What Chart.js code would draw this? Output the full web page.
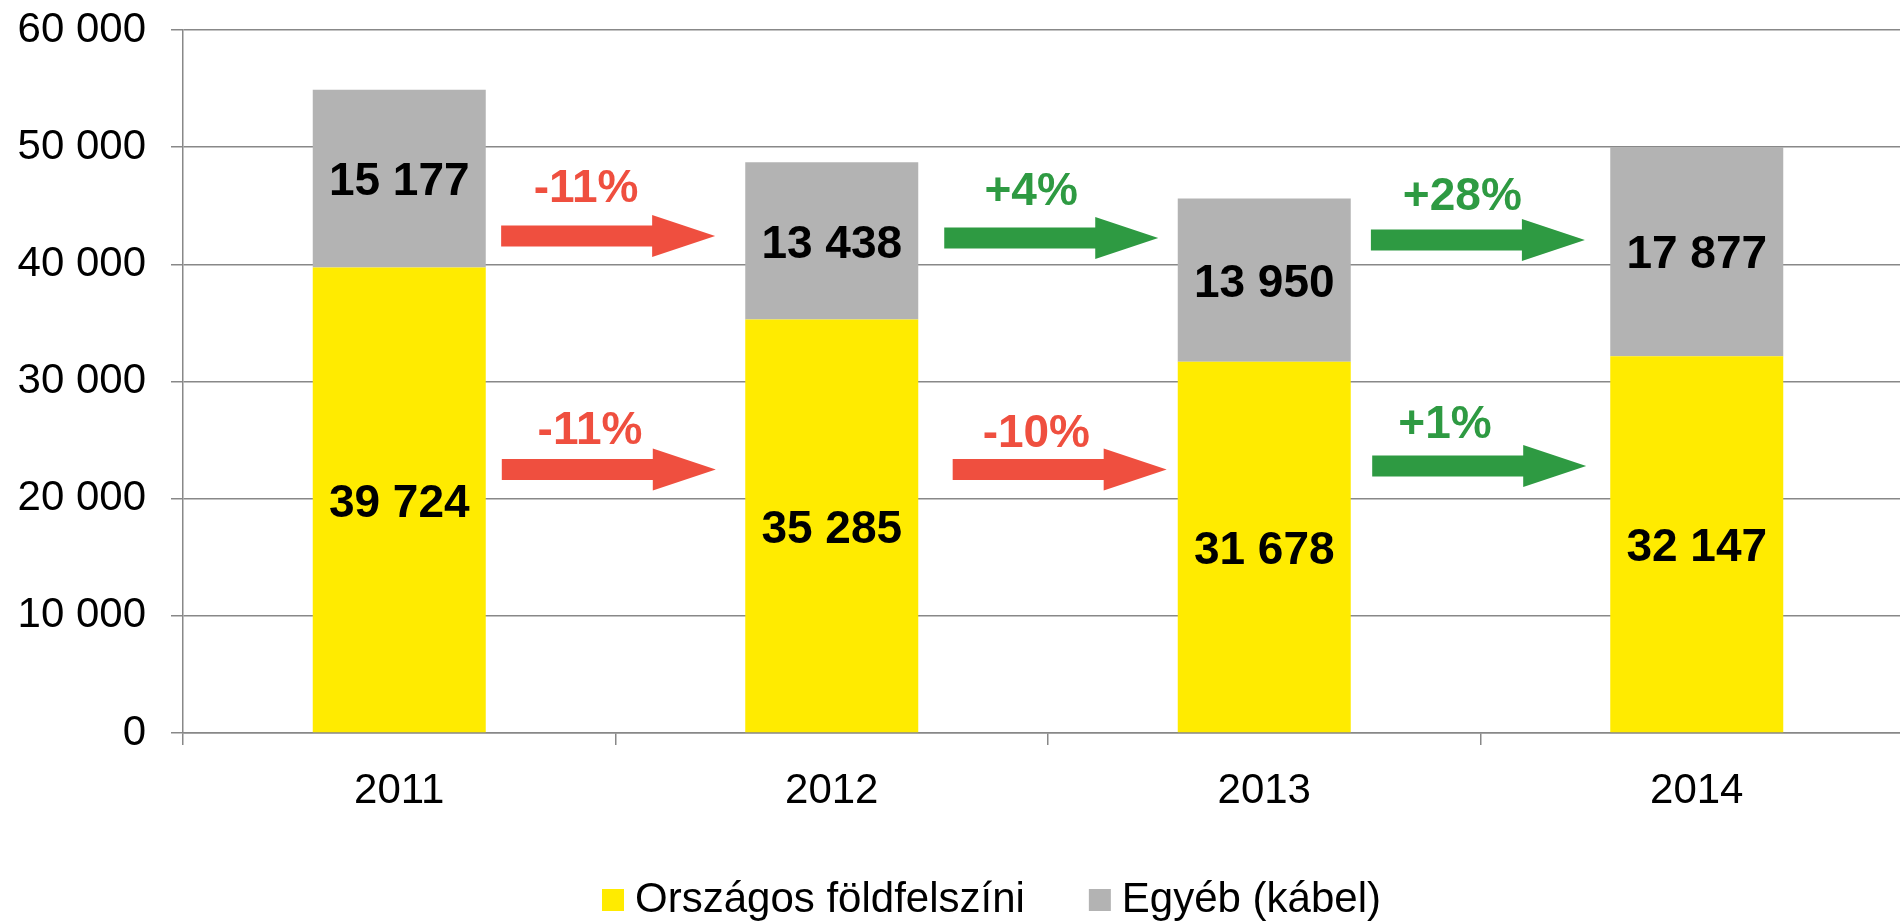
<!DOCTYPE html>
<html>
<head>
<meta charset="utf-8">
<script src="https://cdn.jsdelivr.net/npm/chart.js@4.4.0/dist/chart.umd.min.js"></script>
<style>
  html, body { margin: 0; padding: 0; overflow: hidden; background: #fff; }
  canvas { display: block; }
</style>
</head>
<body>
<canvas id="myChart" width="1978" height="940"></canvas>
<script>
const years = ["2011", "2012", "2013", "2014"];
const seriesNames = ["Országos földfelszíni", "Egyéb (kábel)"];
const foldfelszini = [39724, 35285, 31678, 32147];
const kabel = [15177, 13438, 13950, 17877];
// year-on-year change between neighbouring columns
const changeKabel = ["-11%", "+4%", "+28%"];
const changeFoldfelszini = ["-11%", "-10%", "+1%"];

const FONT = "'Liberation Sans', Arial, sans-serif";
const GRID = "#888888";

function spaced(v) {
  return String(v).replace(/\B(?=(\d{3})+(?!\d))/g, " ");
}

// numbers in the middle of every bar segment
const segmentLabels = {
  id: "segmentLabels",
  afterDatasetsDraw(chart) {
    const ctx = chart.ctx;
    ctx.save();
    ctx.font = "bold 46px " + FONT;
    ctx.fillStyle = "#000";
    ctx.textAlign = "center";
    ctx.textBaseline = "middle";
    chart.data.datasets.forEach((ds, i) => {
      chart.getDatasetMeta(i).data.forEach((bar, j) => {
        const p = bar.getProps(["x", "y", "base"], true);
        ctx.fillText(spaced(ds.data[j]), p.x, (p.y + p.base) / 2 + 4);
      });
    });
    ctx.restore();
  }
};

// the change arrows between columns
const changeArrows = {
  id: "changeArrows",
  afterDatasetsDraw(chart, args, opts) {
    const ctx = chart.ctx;
    const x = chart.scales.x, y = chart.scales.y;
    ctx.save();
    ctx.font = "bold 46px " + FONT;
    ctx.textAlign = "center";
    ctx.textBaseline = "middle";
    opts.rows.forEach(row => {
      row.labels.forEach((txt, i) => {
        const color = txt.startsWith("-") ? "#ef4f3f" : "#2e9a42";
        const mid = x.getPixelForValue(row.mid[i]);
        const ay = y.getPixelForValue(row.y[i]);
        const x0 = mid - 107, x1 = mid + 107;
        ctx.fillStyle = color;
        ctx.beginPath();
        ctx.moveTo(x0, ay - 10.5);
        ctx.lineTo(x1 - 63, ay - 10.5);
        ctx.lineTo(x1 - 63, ay - 21);
        ctx.lineTo(x1, ay);
        ctx.lineTo(x1 - 63, ay + 21);
        ctx.lineTo(x1 - 63, ay + 10.5);
        ctx.lineTo(x0, ay + 10.5);
        ctx.closePath();
        ctx.fill();
        ctx.fillText(txt, x.getPixelForValue(row.textX[i]), y.getPixelForValue(row.textY[i]) + 4);
      });
    });
    ctx.restore();
  }
};

// the legend of the original sits a little right of the centre
const legendShift = {
  id: "legendShift",
  afterLayout(chart) {
    chart.legend.left += 40;
    chart.legend.right += 40;
  }
};

const config = {
  type: "bar",
  data: {
    labels: years,
    datasets: [
      {
        label: seriesNames[0],
        data: foldfelszini,
        backgroundColor: "#ffeb00",
        borderWidth: 0,
        barPercentage: 0.5,
        categoryPercentage: 0.8
      },
      {
        label: seriesNames[1],
        data: kabel,
        backgroundColor: "#b3b3b3",
        borderWidth: 0,
        barPercentage: 0.5,
        categoryPercentage: 0.8
      }
    ]
  },
  options: {
    responsive: false,
    animation: false,
    layout: { padding: { left: 0, right: 65, top: 0, bottom: 9 } },
    plugins: {
      tooltip: { enabled: false },
      legend: {
        position: "bottom",
        labels: {
          color: "#000",
          font: { family: FONT, size: 42 },
          usePointStyle: true,
          pointStyle: "rect",
          boxWidth: 2,
          boxHeight: 22,
          padding: 74
        }
      },
      changeArrows: {
        rows: [
          { labels: changeKabel, mid: [0.483, 1.5075, 2.494], y: [42420, 42250, 42080],
            textX: [0.432, 1.461, 2.458], textY: [46770, 46470, 46090] },
          { labels: changeFoldfelszini, mid: [0.4845, 1.527, 2.497], y: [22490, 22490, 22790],
            textX: [0.441, 1.473, 2.418], textY: [26120, 25860, 26590] }
        ]
      }
    },
    scales: {
      x: {
        stacked: true,
        grid: { drawOnChartArea: false, color: GRID, lineWidth: 1.5, tickLength: 12 },
        border: { color: GRID, width: 1.5 },
        ticks: { color: "#000", font: { family: FONT, size: 42 }, padding: 21, maxRotation: 0 },
        afterFit(scale) { scale.height = 72; }
      },
      y: {
        stacked: true,
        min: 0,
        max: 60000,
        grid: { color: GRID, lineWidth: 1.5, tickLength: 12 },
        border: { color: GRID, width: 1.5 },
        ticks: {
          stepSize: 10000,
          color: "#000",
          font: { family: FONT, size: 42 },
          padding: 25,
          callback: v => spaced(v)
        },
        afterFit(scale) {
          scale.width = 183;
          scale.paddingTop = 30;
        }
      }
    }
  },
  plugins: [segmentLabels, changeArrows, legendShift]
};

const myChart = new Chart(document.getElementById("myChart"), config);
</script>
</body>
</html>
